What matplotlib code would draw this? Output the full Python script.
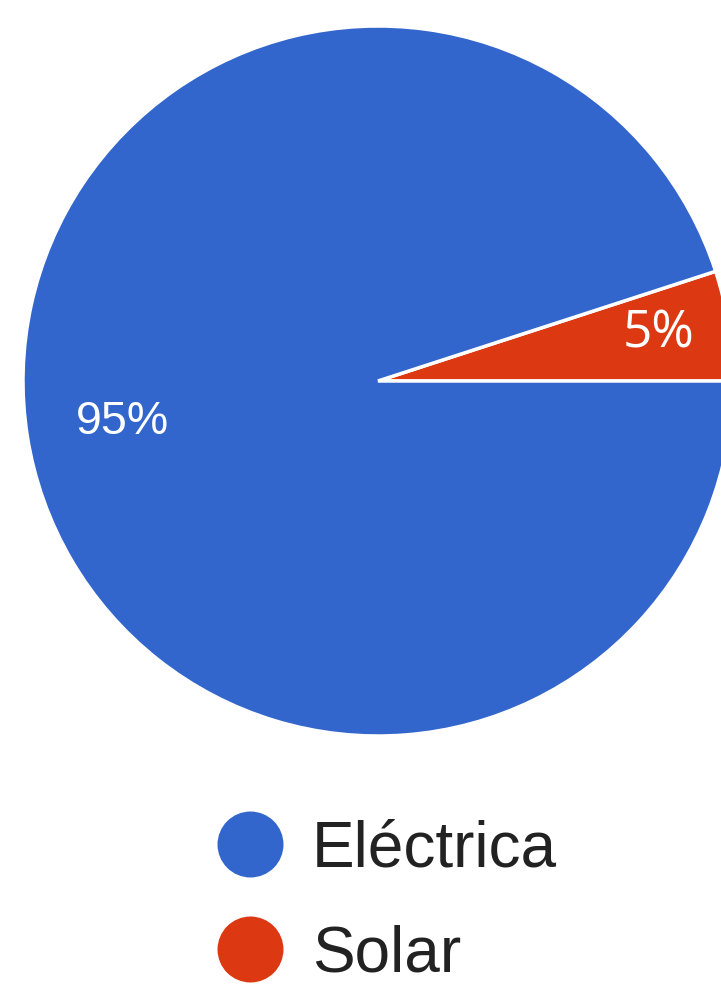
import matplotlib
matplotlib.use("Agg")
import matplotlib.pyplot as plt
from matplotlib.lines import Line2D
import numpy as np

categories = ["Eléctrica", "Solar"]
values = [95, 5]
colors = ["#3366cc", "#dc3912"]

W, H = 721, 984
fig = plt.figure(figsize=(W / 100, H / 100), dpi=100)
ax = fig.add_axes([0, 0, 1, 1])

cx, cy, R = 378, H - 381, 355
wedges, texts, autotexts = ax.pie(
    values[::-1], colors=colors[::-1], startangle=0, counterclock=True,
    center=(cx, cy), radius=R, autopct="%d%%", pctdistance=0.73,
    wedgeprops=dict(edgecolor="white", linewidth=2.5),
    textprops=dict(color="white"), frame=True,
)
ax.set_xlim(0, W)
ax.set_ylim(0, H)
ax.axis("off")
ax.set_aspect("auto")

solar_t = autotexts[0]
solar_t.set_fontfamily("Open Sans")
solar_t.set_fontsize(37)
ang = np.deg2rad(9.5)
solar_t.set_position((cx + 0.80 * R * np.cos(ang), cy + 0.80 * R * np.sin(ang)))
el_t = autotexts[1]
el_t.set_fontfamily("Liberation Sans")
el_t.set_fontsize(33.5)

handles = [Line2D([], [], marker="o", ls="", ms=47.5, color=c, markeredgewidth=0)
           for c in colors]
leg = fig.legend(handles, categories, loc="center left",
                 bbox_to_anchor=(218 / W, (H - 902) / H), frameon=False,
                 prop=dict(family="Liberation Sans", size=46), handlelength=1.0,
                 handletextpad=0.47, labelspacing=0.71, borderpad=0,
                 borderaxespad=0)
for t in leg.get_texts():
    t.set_color("#222222")

fig.savefig("out.png", dpi=100)
